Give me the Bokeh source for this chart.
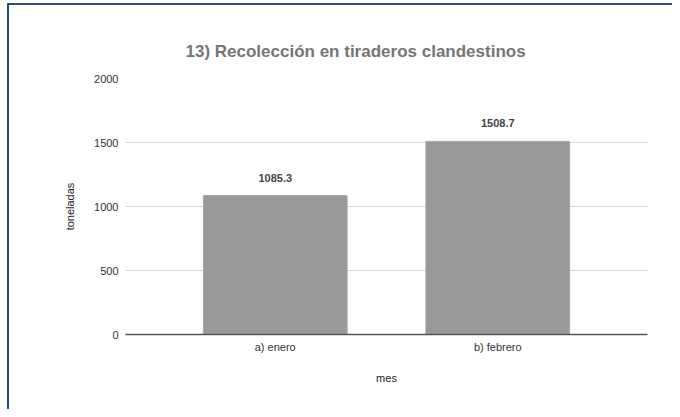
from bokeh.plotting import figure
from bokeh.models import ColumnDataSource, FactorRange, Range1d, LabelSet, FixedTicker, InlineStyleSheet
from bokeh.core.properties import value
from bokeh.embed import file_html
from bokeh.resources import INLINE

categories = ["a) enero", "b) febrero"]
values = [1085.3, 1508.7]
value_labels = ["1085.3", "1508.7"]
y_ticks = [0, 500, 1000, 1500, 2000]

FONT = "Liberation Sans"
BORDER = "#2b4c7e"

source = ColumnDataSource(data=dict(cat=categories, val=values, lab=value_labels))

frame_border = InlineStyleSheet(css=(
    ":host::after { content: ''; position: absolute; left: 7px; top: 3px; right: 0; bottom: 0;"
    f" border-left: 2px solid {BORDER}; border-top: 2px solid {BORDER};"
    " pointer-events: none; z-index: 10; }"
))

p = figure(
    width=672, height=409,
    x_range=FactorRange(*categories, range_padding=0.173),
    y_range=Range1d(0, 2000),
    output_backend="svg", toolbar_location=None,
    min_border_left=125, min_border_right=25,
    min_border_top=78, min_border_bottom=75,
    title="13) Recolección en tiraderos clandestinos",
    stylesheets=[frame_border],
)

p.vbar(x="cat", top="val", width=0.646, source=source,
       fill_color="#999999", line_color="#a6a6a6", line_width=1)

labels = LabelSet(x="cat", y="val", text="lab", source=source,
                  y_offset=18, text_align="center", text_baseline="middle",
                  text_font=value(FONT), text_font_size="11px", text_font_style="bold",
                  text_color="#444444")
p.add_layout(labels)

p.title.align = "left"
p.title.offset = 60
p.title.text_font = FONT
p.title.text_font_size = "17px"
p.title.text_font_style = "bold"
p.title.text_color = "#757575"
p.title.standoff = 35

p.outline_line_color = None
p.background_fill_color = "white"
p.border_fill_color = "white"

p.xgrid.grid_line_color = None
p.ygrid.grid_line_color = "#d9d9d9"
p.ygrid.grid_line_width = 1
p.yaxis.ticker = FixedTicker(ticks=y_ticks)

for ax in (p.xaxis[0], p.yaxis[0]):
    ax.major_tick_line_color = None
    ax.minor_tick_line_color = None
    ax.major_label_text_font = FONT
    ax.major_label_text_font_size = "11px"
    ax.major_label_text_color = "#333333"
    ax.axis_label_text_font = FONT
    ax.axis_label_text_font_size = "11px"
    ax.axis_label_text_font_style = "normal"
    ax.axis_label_text_color = "#222222"

p.yaxis.axis_line_color = None
p.yaxis.axis_label = "toneladas"
p.yaxis.major_label_standoff = 1
p.yaxis.axis_label_standoff = 15

p.xaxis.axis_line_color = "#555555"
p.xaxis.axis_line_width = 1.5
p.xaxis.axis_label = "mes"
p.xaxis.major_label_standoff = 0
p.xaxis.axis_label_standoff = 16

open("out.html", "w").write(file_html(p, INLINE))
